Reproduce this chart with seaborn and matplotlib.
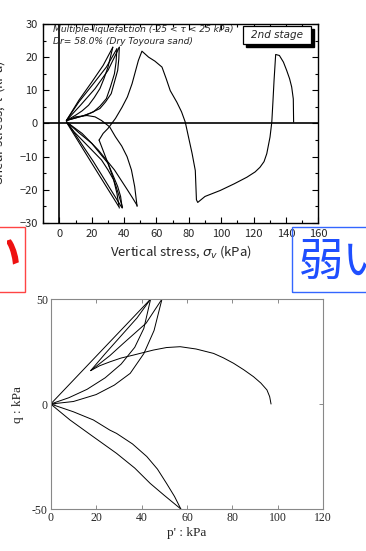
import matplotlib

matplotlib.use("Agg")
import matplotlib.pyplot as plt
import pandas as pd
import seaborn as sns
from matplotlib.patches import Rectangle
from matplotlib.ticker import MultipleLocator
from matplotlib.transforms import Bbox, TransformedBbox

# ---- top panel: shear stress vs vertical stress (kPa) ----
# loading lines from the origin cluster up to +tau peaks
up1_x = [4.3, 12, 20, 27, 33.0]
up1_y = [0.9, 7.0, 12.5, 17.5, 23.0]
up2_x = [4.3, 12, 21, 29, 35.5]
up2_y = [0.9, 6.5, 12.0, 17.0, 22.5]
up3_x = [4.3, 13, 22, 30, 37.0]
up3_y = [0.9, 5.5, 10.5, 16.0, 23.0]
# unloading back to the origin cluster
dn1_x = [33.0, 31.5, 30, 27.5, 25, 21.5, 18, 14, 10, 4.3]
dn1_y = [23.0, 20.0, 17.0, 13.5, 10.5, 7.8, 5.5, 3.8, 2.5, 0.9]
dn2_x = [35.5, 35, 34, 31.5, 29, 25, 21, 16, 11, 4.3]
dn2_y = [22.5, 18.5, 15.0, 11.0, 7.5, 5.2, 3.5, 2.5, 1.8, 0.9]
dn3_x = [37.0, 36.7, 36, 34, 32, 28.5, 25, 19, 14, 4.3]
dn3_y = [23.0, 19.5, 16.0, 12.5, 9.0, 6.5, 4.5, 3.1, 2.2, 0.9]
# lines down to -tau peaks
neg1_x = [4.3, 20, 36.6]
neg1_y = [0.4, -12.0, -25.0]
neg2_x = [4.8, 21, 38.5]
neg2_y = [0.3, -11.5, -25.3]
ret1_x = [37.0, 35.5, 33.5, 30, 26, 20, 14, 9, 4.3]
ret1_y = [-25.5, -21.0, -17.0, -14.0, -11.0, -8.0, -5.0, -2.5, 0.5]
ret2_x = [38.8, 37.8, 36, 33, 30, 25, 20, 12, 4.5]
ret2_y = [-25.5, -22.0, -19.0, -15.5, -12.0, -9.0, -6.0, -2.8, 0.5]
arc_x = [4.3, 10, 17, 22, 26, 31, 34.6, 38.5, 41.8, 44.5, 46.5, 48.0]
arc_y = [0.9, 2.0, 2.4, 2.0, 0.9, -1.0, -4.0, -6.8, -10.0, -14.0, -19.0, -25.0]
ret3_x = [48.0, 45, 42, 38, 34, 29, 24, 19, 14, 9, 4.3]
ret3_y = [-24.7, -22.3, -20.0, -17.0, -14.0, -11.0, -8.0, -5.5, -3.0, -1.2, 0.5]
corner_x = [24.5, 30, 35, 39.0]
corner_y = [-5.0, -12.0, -19.0, -25.3]
# final long path to the right
path_x = [24.5, 27, 30, 34.6, 38.7, 42, 44.9, 48.8, 51.0, 55.1, 59, 63.4, 66,
          68.5, 72.6, 75.5, 77.8, 79.8, 82, 84.0, 84.7, 85.5, 90, 99.4, 108,
          115.9, 121, 124.0, 126.5, 128.2, 130.2, 131.3, 132.0, 132.7, 133.7,
          136.0, 138.5, 140.5, 142.3, 143.6, 144.6, 144.8]
path_y = [-5.0, -3.0, -1.5, 1.5, 4.9, 8.0, 12.0, 19.0, 21.8, 20.0, 18.8, 17.0,
          13.5, 9.9, 6.4, 3.5, 0.4, -4.1, -9.0, -14.2, -23.0, -23.8, -22.0,
          -20.2, -18.2, -16.2, -14.6, -13.2, -11.5, -9.1, -4.1, 0.4, 6.5,
          13.0, 20.8, 20.5, 18.5, 16.0, 13.5, 11.0, 7.4, 0.4]

TOP_CURVES = [
    (up1_x, up1_y), (up2_x, up2_y), (up3_x, up3_y),
    (dn1_x, dn1_y), (dn2_x, dn2_y), (dn3_x, dn3_y),
    (neg1_x, neg1_y), (neg2_x, neg2_y), (ret1_x, ret1_y), (ret2_x, ret2_y),
    (arc_x, arc_y), (ret3_x, ret3_y), (corner_x, corner_y), (path_x, path_y),
]

# ---- bottom panel: q vs p' (kPa) ----
csl_arc_x = [97.0, 96.4, 95.2, 92.5, 89.3, 85, 80.5, 76, 71.7, 64, 57.0, 51,
             45.2, 36.4, 31, 26.1, 21.5, 17.6]
csl_arc_y = [0.0, 3.5, 6.7, 10.0, 13.0, 16.3, 19.4, 22.0, 24.1, 26.2, 27.3, 26.9,
             25.7, 23.3, 21.9, 20.1, 18.2, 15.9]
tip_p1_x = [17.6, 24, 31, 38, 44.0]
tip_p1_y = [15.9, 24.0, 32.5, 41.0, 50.0]
tip_p2_x = [17.6, 26, 32, 42, 49.0]
tip_p2_y = [15.9, 23.0, 28.9, 38.5, 50.0]
org_p1_x = [0.0, 44.0]
org_p1_y = [0.0, 50.0]
curv_p1_x = [0.0, 8, 16, 24, 31, 37, 41, 44.0]
curv_p1_y = [0.0, 3.0, 7.0, 12.5, 19.0, 27.0, 36.0, 50.0]
curv_p2_x = [0.0, 10, 20, 28, 35, 41, 45.5, 49.0]
curv_p2_y = [0.0, 1.2, 4.5, 9.0, 14.6, 24.0, 35.0, 50.0]
ext1_x = [0.0, 8.5, 18, 29, 37, 43.8, 50, 57.3]
ext1_y = [0.0, -7.6, -15.0, -23.5, -30.5, -37.8, -43.5, -50.0]
ext2_x = [0.0, 10, 18.8, 26, 29, 36, 42.3, 47, 51, 54.5, 57.3]
ext2_y = [0.0, -3.7, -7.6, -12.4, -14.0, -19.0, -25.0, -31.0, -37.8, -44.0, -50.0]

BOTTOM_CURVES = [
    (csl_arc_x, csl_arc_y), (tip_p1_x, tip_p1_y), (tip_p2_x, tip_p2_y),
    (org_p1_x, org_p1_y), (curv_p1_x, curv_p1_y), (curv_p2_x, curv_p2_y),
    (ext1_x, ext1_y), (ext2_x, ext2_y),
]


def to_frame(curves):
    rows = []
    for i, (xs, ys) in enumerate(curves):
        for j, (x, y) in enumerate(zip(xs, ys)):
            rows.append({"curve": i, "order": j, "x": x, "y": y})
    return pd.DataFrame(rows)


def draw_curves(ax, curves, lw):
    df = to_frame(curves)
    sns.lineplot(data=df, x="x", y="y", units="curve", estimator=None, sort=False,
                 color="black", lw=lw, ax=ax, legend=False)


sns.set_style("ticks")
plt.rcParams["font.family"] = ["Noto Sans CJK JP", "DejaVu Sans"]
plt.rcParams["axes.unicode_minus"] = True

fig = plt.figure(figsize=(3.66, 5.51), dpi=100)

# ---- top axes ----
ax1 = fig.add_axes([0.1183, 0.5953, 0.7511, 0.3612])
draw_curves(ax1, TOP_CURVES, 0.8)
ax1.axhline(0, color="black", lw=1.2, zorder=1)
ax1.axvline(0, color="black", lw=1.2, zorder=1)
ax1.set_xlim(-10, 160)
ax1.set_ylim(-30, 30)
ax1.xaxis.set_major_locator(MultipleLocator(20))
ax1.xaxis.set_minor_locator(MultipleLocator(10))
ax1.yaxis.set_major_locator(MultipleLocator(10))
ax1.yaxis.set_minor_locator(MultipleLocator(5))
ax1.tick_params(which="both", direction="in", top=True, right=True, color="black",
                width=0.8, labelsize=8, pad=4)
ax1.tick_params(which="major", length=4)
ax1.tick_params(which="minor", length=2)
for s in ax1.spines.values():
    s.set_linewidth(1.0)
    s.set_color("black")
ax1.set_xlabel(r"Vertical stress, $\sigma_v$ (kPa)", fontsize=9.5, labelpad=3)
ax1.set_ylabel("")
fig.text(-1 / 366, 1 - 123 / 551, r"Shear stress, $\tau$ (kPa)", rotation=90,
         ha="center", va="center", fontsize=9.5)

ax1.text(-4.0, 28.3, "Multiple-liquefaction (-25 < τ < 25 kPa)", fontsize=6.6,
         style="italic", family="DejaVu Sans", va="center")
ax1.text(-4.0, 24.6, "Dr= 58.0% (Dry Toyoura sand)", fontsize=6.6,
         style="italic", family="DejaVu Sans", va="center")
ax1.add_patch(Rectangle((115.3, 23.1), 42.2, 5.5, facecolor="black", edgecolor="black",
                        zorder=5, clip_on=False))
ax1.add_patch(Rectangle((113.4, 24.0), 42.2, 5.5, facecolor="white", edgecolor="black",
                        lw=0.9, zorder=6, clip_on=False))
ax1.text(134.5, 26.75, "2nd stage", fontsize=7.5, style="italic", family="DejaVu Sans",
         ha="center", va="center", zorder=7)

# ---- bottom axes ----
ax2 = fig.add_axes([0.1385, 0.0762, 0.7448, 0.3811])
draw_curves(ax2, BOTTOM_CURVES, 0.7)
ax2.set_xlim(0, 120)
ax2.set_ylim(-50, 50)
ax2.set_xticks(range(0, 121, 20))
ax2.set_yticks([-50, 0, 50])
ax2.tick_params(direction="in", top=True, right=True, length=3, width=0.6,
                color="#777777", labelsize=8.5, pad=2)
for lab in ax2.get_xticklabels() + ax2.get_yticklabels():
    lab.set_family("Liberation Serif")
ax2.yaxis.set_major_formatter(plt.FuncFormatter(lambda v, p: f"{int(v)}"))
for s in ax2.spines.values():
    s.set_linewidth(0.8)
    s.set_color("#888888")
ax2.set_xlabel("p' : kPa", fontsize=9.5, family="Liberation Serif", labelpad=2)
ax2.set_ylabel("q : kPa", fontsize=9.5, family="Liberation Serif", labelpad=6)

# ---- overlapping slide boxes ----
fig.patches.append(Rectangle((-5 / 366, 1 - 292 / 551), 30 / 366, 65.3 / 551,
                             transform=fig.transFigure, fill=False,
                             edgecolor="#ff4444", lw=1.0))
red_txt = fig.text(-24 / 366, 1 - 257 / 551, "い", color="#ee1111", fontsize=32,
                   ha="left", va="center", fontweight="bold")
red_txt.set_clip_box(TransformedBbox(Bbox([[7 / 366, 0.0], [24 / 366, 1.0]]),
                                     fig.transFigure))
red_txt.set_clip_on(True)
fig.patches.append(Rectangle((292.3 / 366, 1 - 292.3 / 551), 80 / 366, 65 / 551,
                             transform=fig.transFigure, fill=False,
                             edgecolor="#3366ff", lw=1.0))
fig.text(299 / 366, 1 - 262 / 551, "弱い", color="#1f4fff", fontsize=32,
         ha="left", va="center")

fig.savefig("out.png", dpi=100)
